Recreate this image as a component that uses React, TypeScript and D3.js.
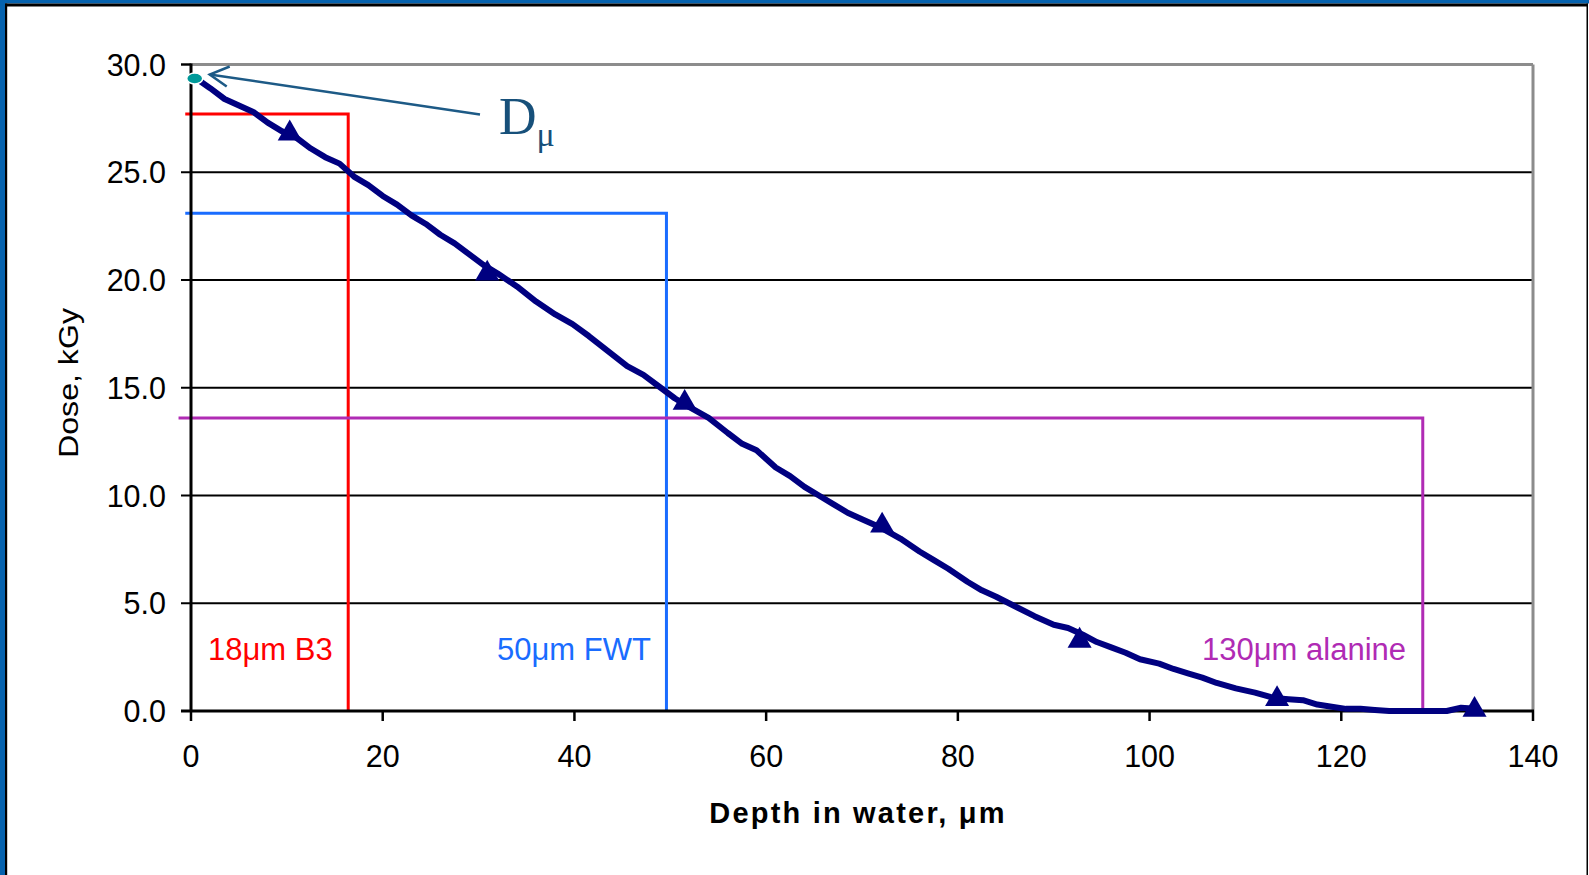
import React from "react";
import * as d3 from "d3";

const curveDepth = [0.7, 2, 3.5, 5, 6.5, 8, 9.5, 11, 12.5, 14, 15.5, 17, 18.5, 20, 21.5, 23, 24.5, 26, 27.5, 29, 30.5, 32, 34, 36, 38, 39.8, 41.5, 43.5, 45.5, 47.2, 49, 50.5, 52, 54, 56, 57.5, 59, 61, 62.5, 64, 65.5, 67, 68.5, 70, 72, 74, 76, 77.5, 79, 81, 82.5, 84, 86, 88, 90, 91.5, 93, 94.5, 96, 97.5, 99, 101, 102.5, 104, 105.5, 107, 109, 111, 113, 114.5, 116, 117.5, 119, 120.5, 122, 123.5, 125, 127, 129, 131, 132.5, 134];
const curveDose = [29.3, 28.9, 28.4, 28.1, 27.8, 27.3, 26.9, 26.6, 26.1, 25.7, 25.4, 24.8, 24.4, 23.9, 23.5, 23.0, 22.6, 22.1, 21.7, 21.2, 20.7, 20.3, 19.7, 19.0, 18.4, 17.95, 17.4, 16.7, 16.0, 15.6, 15.0, 14.5, 14.1, 13.6, 12.9, 12.4, 12.1, 11.3, 10.9, 10.4, 10.0, 9.6, 9.2, 8.9, 8.5, 8.0, 7.4, 7.0, 6.6, 6.0, 5.6, 5.3, 4.85, 4.4, 4.0, 3.85, 3.55, 3.2, 2.95, 2.7, 2.4, 2.2, 1.95, 1.75, 1.55, 1.3, 1.05, 0.85, 0.6, 0.55, 0.5, 0.3, 0.2, 0.1, 0.1, 0.05, 0.0, 0.0, 0.0, 0.0, 0.15, 0.1];

const markerDepth = [10.3, 30.9, 51.5, 72.1, 92.7, 113.3, 133.9];
const markerDose = [26.8, 20.3, 14.3, 8.6, 3.26, 0.55, 0.05];

const xTicks = [0, 20, 40, 60, 80, 100, 120, 140];
const yTicks = [0, 5, 10, 15, 20, 25, 30];

const refLabels = ["18μm B3", "50μm FWT", "130μm alanine"];
const refDepth = [16.4, 49.6, 128.5];
const refDose = [27.7, 23.1, 13.6];
const refStart = [-0.6, -0.6, -1.3];
const refColors = ["#ff0000", "#1a6cff", "#b02bb4"];
const refLabelX = [208, 497, 1202];

const dmuDepth = 0.7;
const dmuDose = 29.35;

export default function App() {
  const W = 1589;
  const H = 875;
  const x = d3.scaleLinear().domain([0, 140]).range([191, 1533]);
  const y = d3.scaleLinear().domain([0, 30]).range([711, 64.5]);
  const line = d3
    .line<number>()
    .x((_, i) => x(curveDepth[i]))
    .y((_, i) => y(curveDose[i]))
    .curve(d3.curveLinear);
  const pathD = line(curveDose) || "";
  const tri = d3.symbol().type(d3.symbolTriangle).size(250)() || "";
  const font = "'Liberation Sans', Arial, sans-serif";

  const ex = x(dmuDepth);
  const ey = y(dmuDose);

  return (
    <svg
      width={W}
      height={H}
      style={{ position: "absolute", left: 0, top: 0, background: "#fff" }}
    >
      <rect x={0} y={0} width={W} height={H} fill="#ffffff" />
      {/* frame */}
      <rect x={0} y={0} width={W} height={3.5} fill="#0562ae" />
      <rect x={0} y={0} width={5} height={H} fill="#0562ae" />
      <rect x={5} y={3.5} width={W - 6} height={3} fill="#000" />
      <rect x={5} y={3.5} width={2.2} height={H} fill="#000" />
      <rect x={1586.5} y={3.5} width={1.5} height={H} fill="#000" />

      {/* gridlines */}
      {yTicks.map((t) => (
        <line
          key={"g" + t}
          x1={181}
          x2={1533}
          y1={y(t)}
          y2={y(t)}
          stroke={t === 30 ? "#8c8c8c" : "#000"}
          strokeWidth={t === 30 ? 3 : 2}
        />
      ))}
      <line x1={181} x2={191} y1={y(30)} y2={y(30)} stroke="#000" strokeWidth={2} />
      {/* right border */}
      <line x1={1533} x2={1533} y1={y(30)} y2={y(0)} stroke="#8c8c8c" strokeWidth={3} />

      {/* reference lines */}
      {refDepth.map((d, i) => (
        <path
          key={"r" + i}
          d={`M${x(refStart[i])},${y(refDose[i])}H${x(d)}V${y(0)}`}
          fill="none"
          stroke={refColors[i]}
          strokeWidth={3}
        />
      ))}

      {/* axes */}
      <line x1={191} x2={191} y1={y(30) - 1} y2={y(0)} stroke="#000" strokeWidth={3} />
      <line x1={181} x2={1534} y1={y(0)} y2={y(0)} stroke="#000" strokeWidth={3} />
      {xTicks.map((t) => (
        <line key={"xt" + t} x1={x(t)} x2={x(t)} y1={y(0)} y2={y(0) + 10} stroke="#000" strokeWidth={2.5} />
      ))}

      {/* tick labels */}
      {yTicks.map((t) => (
        <text
          key={"yl" + t}
          x={166}
          y={y(t) + 11}
          textAnchor="end"
          fontFamily={font}
          fontSize={30.5}
          fill="#000"
        >
          {t.toFixed(1)}
        </text>
      ))}
      {xTicks.map((t) => (
        <text
          key={"xl" + t}
          x={x(t)}
          y={767}
          textAnchor="middle"
          fontFamily={font}
          fontSize={30.5}
          fill="#000"
        >
          {t}
        </text>
      ))}

      {/* axis titles */}
      <text
        x={858}
        y={823}
        textAnchor="middle"
        fontFamily={font}
        fontSize={29}
        fontWeight="bold"
        letterSpacing={2.2}
        fill="#000"
      >
        Depth in water, μm
      </text>
      <text
        transform="translate(78,383) rotate(-90)"
        textAnchor="middle"
        fontFamily={font}
        fontSize={28}
        textLength={150}
        lengthAdjust="spacingAndGlyphs"
        fill="#000"
      >
        Dose, kGy
      </text>

      {/* reference labels */}
      {refLabels.map((l, i) => (
        <text
          key={"rl" + i}
          x={refLabelX[i]}
          y={660}
          fontFamily={font}
          fontSize={31}
          fill={refColors[i]}
        >
          {l}
        </text>
      ))}

      {/* curve */}
      <path d={pathD} fill="none" stroke="#000080" strokeWidth={6} strokeLinejoin="round" />
      {markerDepth.map((d, i) => (
        <path
          key={"m" + i}
          d={tri}
          transform={`translate(${x(d)},${y(markerDose[i])})`}
          fill="#000080"
        />
      ))}

      {/* D_mu annotation */}
      <ellipse cx={ex - 3} cy={ey} rx={8} ry={5.5} fill="#009999" stroke="#fff" strokeWidth={1.5} />
      <line x1={ex + 12} y1={ey - 4} x2={480} y2={114.5} stroke="#1d5a86" strokeWidth={2.5} />
      <path
        d={`M${ex + 32},${ey - 12} L${ex + 12},${ey - 4} L${ex + 29},${ey + 8}`}
        fill="none"
        stroke="#1d5a86"
        strokeWidth={2.5}
      />
      <text x={499} y={134} fontFamily="'Liberation Serif', 'Times New Roman', serif" fontSize={52} fill="#17507a">
        D
        <tspan fontSize={34} dy={12}>μ</tspan>
      </text>
    </svg>
  );
}
